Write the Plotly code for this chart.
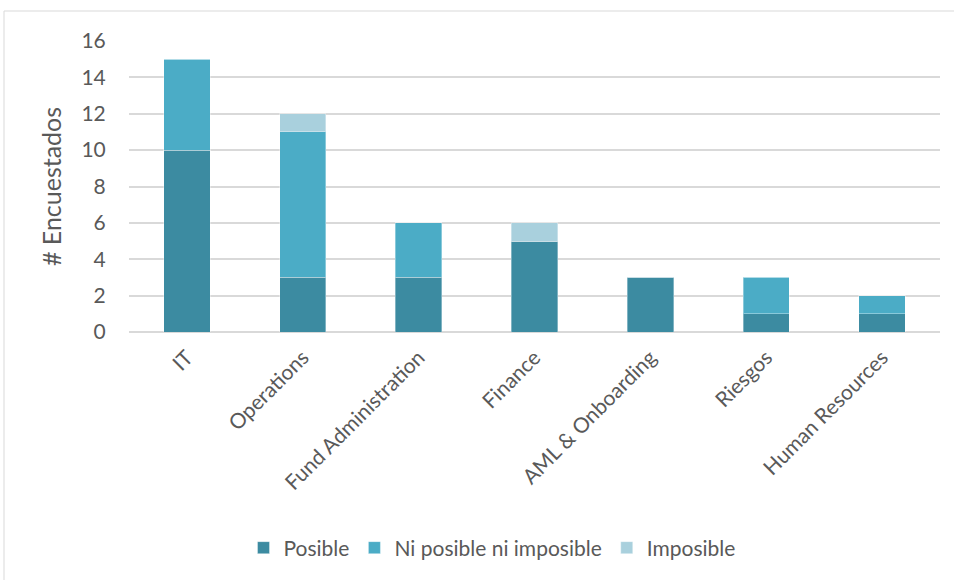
import plotly.graph_objects as go

categories = ["IT", "Operations", "Fund Administration", "Finance",
              "AML & Onboarding", "Riesgos", "Human Resources"]
posible = [10, 3, 3, 5, 3, 1, 1]
ni_posible = [5, 8, 3, 0, 0, 2, 1]
imposible = [0, 1, 0, 1, 0, 0, 0]
y_ticks = [0, 2, 4, 6, 8, 10, 12, 14, 16]

W, H = 954, 580
L, R, T, B = 129, 14, 41, 248
pw, ph = W - L - R, H - T - B

FONT = "Lato, 'Liberation Sans', sans-serif"
TXT = "#595959"

fig = go.Figure()
for name, vals, col in [("Posible", posible, "#3C8BA1"),
                        ("Ni posible ni imposible", ni_posible, "#4BACC6"),
                        ("Imposible", imposible, "#A9D0DD")]:
    fig.add_trace(go.Bar(x=categories, y=vals, name=name,
                         marker=dict(color=col, line=dict(color="rgba(255,255,255,0.35)", width=1))))

fig.update_layout(
    barmode="stack",
    bargap=0.6,
    width=W, height=H,
    margin=dict(l=L, r=R, t=T, b=B, autoexpand=False),
    paper_bgcolor="white", plot_bgcolor="white",
    font=dict(family=FONT, color=TXT, size=21),
    showlegend=True,
    legend=dict(orientation="h", x=(492 - L) / pw, xanchor="center",
                y=(H - B - 548) / ph, yanchor="middle",
                font=dict(size=21, color=TXT), traceorder="normal",
                itemwidth=30),
    xaxis=dict(tickangle=-45, showgrid=False, showline=False,
               ticks="outside", ticklen=4, tickcolor="rgba(0,0,0,0)",
               tickfont=dict(size=21, color=TXT)),
    yaxis=dict(range=[0, 16], tickvals=y_ticks, showgrid=True,
               gridcolor="#D9D9D9", gridwidth=1.5, zeroline=True,
               zerolinecolor="#D9D9D9", zerolinewidth=1.5,
               ticks="outside", ticklen=18, tickcolor="rgba(0,0,0,0)",
               tickfont=dict(size=21, color=TXT),
               title=dict(text="# Encuestados", font=dict(size=25, color=TXT), standoff=12)),
    shapes=[dict(type="rect", xref="paper", yref="paper",
                 x0=(4 - L) / pw, x1=(990 - L) / pw,
                 y0=(H - B - 700) / ph, y1=(H - B - 11) / ph,
                 line=dict(color="#D9D9D9", width=1), fillcolor="rgba(0,0,0,0)",
                 layer="below")],
)

fig.write_html("out.html")
